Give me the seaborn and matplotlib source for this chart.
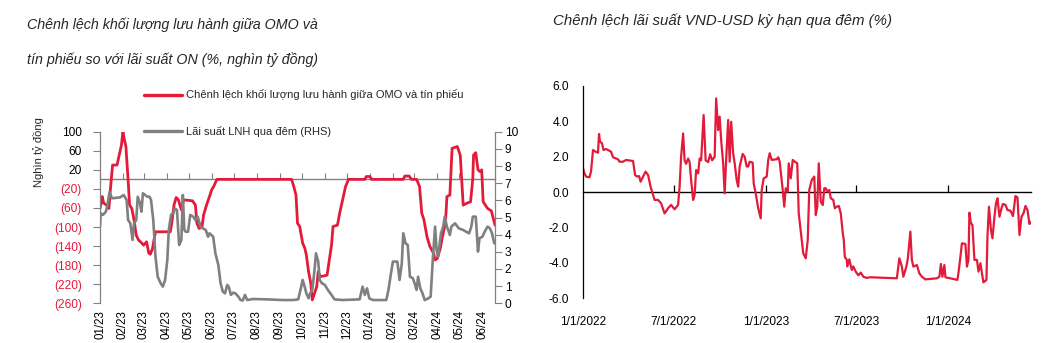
import matplotlib
matplotlib.use("Agg")
import matplotlib.pyplot as plt
import matplotlib.dates as mdates
from matplotlib import font_manager
import pandas as pd
import seaborn as sns

# ---- Left panel: OMO vs bills outstanding gap (LHS, bn VND) ----
omo_dates = [
    "2023-01-01", "2023-01-04", "2023-01-06", "2023-01-10", "2023-01-13", "2023-01-15",
    "2023-01-18", "2023-01-24", "2023-01-27", "2023-01-30", "2023-02-01", "2023-02-03",
    "2023-02-05", "2023-02-08", "2023-02-10", "2023-02-13", "2023-02-16", "2023-02-19",
    "2023-02-22", "2023-02-26", "2023-03-01", "2023-03-05", "2023-03-08", "2023-03-10",
    "2023-03-13", "2023-03-15", "2023-03-17", "2023-04-06", "2023-04-08", "2023-04-11",
    "2023-04-14", "2023-04-17", "2023-04-21", "2023-04-24", "2023-05-06", "2023-05-10",
    "2023-05-12", "2023-05-15", "2023-05-19", "2023-05-21", "2023-05-25", "2023-05-29",
    "2023-06-01", "2023-06-04", "2023-06-08", "2023-09-17", "2023-09-20", "2023-09-23",
    "2023-09-25", "2023-09-28", "2023-10-02", "2023-10-05", "2023-10-07", "2023-10-10",
    "2023-10-13", "2023-10-15", "2023-10-18", "2023-10-21", "2023-10-23", "2023-10-26",
    "2023-11-04", "2023-11-07", "2023-11-10", "2023-11-12", "2023-11-18", "2023-11-21",
    "2023-11-25", "2023-11-29", "2023-12-03", "2023-12-25", "2023-12-27", "2024-01-01",
    "2024-01-03", "2024-02-15", "2024-02-17", "2024-02-23", "2024-02-26", "2024-03-04",
    "2024-03-08", "2024-03-11", "2024-03-14", "2024-03-18", "2024-03-22", "2024-03-27",
    "2024-03-29", "2024-04-01", "2024-04-05", "2024-04-08", "2024-04-12", "2024-04-14",
    "2024-04-18", "2024-04-21", "2024-04-28", "2024-05-02", "2024-05-06", "2024-05-11",
    "2024-05-16", "2024-05-19", "2024-05-20", "2024-05-23", "2024-05-26", "2024-05-29",
    "2024-05-31", "2024-06-02", "2024-06-08", "2024-06-13", "2024-06-18",
]
omo_gap = [
    -61, -36, -50, -54, -61, -22,
    30, 30, 51, 72, 100, 83,
    69, -1, -54, -61, -85, -117,
    -127, -133, -138, -131, -155, -157,
    -145, -127, -110, -110, -92, -54,
    -38, -43, -64, -43, -45, -54,
    -92, -103, -99, -75, -54, -36,
    -22, -14, 0, 0, -15, -33,
    -92, -99, -134, -145, -159, -194,
    -218, -253, -239, -225, -194, -204,
    -201, -169, -138, -99, -96, -71,
    -43, -15, 0, 0, 6, 6,
    0, 0, 7, 7, 0, 0,
    -15, -71, -85, -120, -141, -155,
    -169, -166, -145, -120, -92, -36,
    -33, 65, 69, 51, -54, -50,
    -47, 2, 51, 56, 20, 16,
    20, -47, -61, -66, -96,
]

# ---- Left panel: interbank overnight rate (RHS, %) ----
lnh_dates = [
    "2023-01-01", "2023-01-02", "2023-01-05", "2023-01-09", "2023-01-11", "2023-01-14",
    "2023-01-17", "2023-01-28", "2023-02-02", "2023-02-06", "2023-02-08", "2023-02-11",
    "2023-02-14", "2023-02-16", "2023-02-19", "2023-02-21", "2023-02-24", "2023-02-26",
    "2023-02-28", "2023-03-03", "2023-03-06", "2023-03-09", "2023-03-11", "2023-03-14",
    "2023-03-17", "2023-03-20", "2023-03-24", "2023-03-27", "2023-03-30", "2023-04-02",
    "2023-04-04", "2023-04-07", "2023-04-10", "2023-04-12", "2023-04-15", "2023-04-18",
    "2023-04-21", "2023-04-23", "2023-04-25", "2023-04-27", "2023-04-30", "2023-05-03",
    "2023-05-07", "2023-05-10", "2023-05-13", "2023-05-17", "2023-05-20", "2023-05-24",
    "2023-05-27", "2023-05-29", "2023-06-03", "2023-06-06", "2023-06-10", "2023-06-13",
    "2023-06-16", "2023-06-19", "2023-06-22", "2023-06-24", "2023-06-27", "2023-06-30",
    "2023-07-03", "2023-07-07", "2023-07-10", "2023-07-13", "2023-07-16", "2023-07-19",
    "2023-07-27", "2023-08-14", "2023-09-05", "2023-09-19", "2023-09-26", "2023-09-29",
    "2023-10-02", "2023-10-04", "2023-10-07", "2023-10-10", "2023-10-12", "2023-10-15",
    "2023-10-18", "2023-10-20", "2023-10-23", "2023-10-25", "2023-10-28", "2023-11-01",
    "2023-11-05", "2023-11-10", "2023-11-14", "2023-11-25", "2023-12-18", "2023-12-22",
    "2023-12-25", "2023-12-28", "2023-12-31", "2024-01-05", "2024-01-23", "2024-01-26",
    "2024-01-29", "2024-02-01", "2024-02-07", "2024-02-10", "2024-02-13", "2024-02-15",
    "2024-02-18", "2024-02-21", "2024-02-24", "2024-02-28", "2024-03-02", "2024-03-04",
    "2024-03-06", "2024-03-09", "2024-03-12", "2024-03-15", "2024-03-20", "2024-03-23",
    "2024-03-26", "2024-03-29", "2024-03-31", "2024-04-02", "2024-04-06", "2024-04-09",
    "2024-04-11", "2024-04-14", "2024-04-18", "2024-04-20", "2024-04-25", "2024-04-30",
    "2024-05-06", "2024-05-10", "2024-05-14", "2024-05-17", "2024-05-19", "2024-05-23",
    "2024-05-26", "2024-05-28", "2024-06-01", "2024-06-04", "2024-06-08", "2024-06-11",
    "2024-06-14", "2024-06-17",
]
lnh_rate = [
    4.47, 5.24, 5.15, 5.34, 5.73, 6.50,
    6.12, 6.17, 6.31, 6.02, 4.85, 4.66,
    3.69, 4.66, 4.85, 6.21, 5.83, 5.34,
    6.41, 6.31, 6.21, 6.21, 6.02, 4.85,
    2.72, 1.55, 1.17, 0.97, 1.36, 2.52,
    4.27, 5.15, 5.24, 5.53, 5.44, 3.40,
    3.69, 6.31, 4.27, 4.17, 4.17, 5.15,
    5.05, 4.85, 5.05, 4.47, 4.37, 4.27,
    3.88, 4.08, 3.88, 2.91, 2.23, 1.17,
    0.68, 0.58, 1.07, 0.97, 0.49, 0.62,
    0.58, 0.39, 0.19, 0.16, 0.49, 0.19,
    0.25, 0.23, 0.19, 0.19, 0.23, 0.78,
    1.36, 1.07, 0.58, 0.29, 0.58, 0.78,
    1.94, 2.91, 2.43, 1.36, 1.17, 1.07,
    0.78, 0.49, 0.23, 0.19, 0.23, 0.97,
    0.49, 0.87, 0.29, 0.19, 0.19, 0.78,
    1.65, 2.43, 2.43, 1.36, 2.33, 4.08,
    3.50, 3.40, 1.55, 1.46, 1.07, 0.78,
    1.55, 0.87, 0.58, 0.19, 0.29, 0.39,
    2.62, 4.47, 3.11, 2.72, 4.08, 4.47,
    5.05, 4.47, 3.98, 4.47, 4.66, 4.37,
    4.27, 4.17, 4.08, 4.47, 5.05, 5.05,
    3.01, 3.79, 3.88, 4.17, 4.47, 4.37,
    4.08, 3.50,
]

# ---- Right panel: VND-USD overnight rate spread (%) ----
usd_dates = [
    "2022-01-01", "2022-01-04", "2022-01-07", "2022-01-14", "2022-01-17", "2022-01-21",
    "2022-01-26", "2022-01-31", "2022-02-02", "2022-02-04", "2022-02-08", "2022-02-11",
    "2022-02-16", "2022-02-26", "2022-03-02", "2022-03-12", "2022-03-15", "2022-03-22",
    "2022-03-28", "2022-04-11", "2022-04-15", "2022-04-19", "2022-04-23", "2022-04-26",
    "2022-05-01", "2022-05-06", "2022-05-11", "2022-05-16", "2022-05-20", "2022-05-24",
    "2022-05-31", "2022-06-06", "2022-06-13", "2022-06-20", "2022-06-26", "2022-07-03",
    "2022-07-10", "2022-07-13", "2022-07-16", "2022-07-20", "2022-07-23", "2022-07-26",
    "2022-07-30", "2022-08-02", "2022-08-05", "2022-08-09", "2022-08-12", "2022-08-15",
    "2022-08-19", "2022-08-22", "2022-08-25", "2022-08-30", "2022-09-03", "2022-09-08",
    "2022-09-12", "2022-09-16", "2022-09-21", "2022-09-24", "2022-09-28", "2022-10-01",
    "2022-10-04", "2022-10-08", "2022-10-11", "2022-10-14", "2022-10-18", "2022-10-21",
    "2022-10-24", "2022-10-28", "2022-10-31", "2022-11-04", "2022-11-07", "2022-11-10",
    "2022-11-16", "2022-11-20", "2022-11-24", "2022-11-27", "2022-11-30", "2022-12-06",
    "2022-12-08", "2022-12-12", "2022-12-17", "2022-12-22", "2022-12-24", "2022-12-28",
    "2023-01-03", "2023-01-06", "2023-01-09", "2023-01-13", "2023-01-23", "2023-01-26",
    "2023-01-29", "2023-02-04", "2023-02-07", "2023-02-10", "2023-02-14", "2023-02-16",
    "2023-02-20", "2023-02-24", "2023-02-28", "2023-03-05", "2023-03-08", "2023-03-14",
    "2023-03-17", "2023-03-22", "2023-03-26", "2023-03-29", "2023-04-03", "2023-04-08",
    "2023-04-11", "2023-04-14", "2023-04-17", "2023-04-21", "2023-04-25", "2023-04-28",
    "2023-05-01", "2023-05-04", "2023-05-08", "2023-05-11", "2023-05-16", "2023-05-19",
    "2023-05-23", "2023-05-27", "2023-05-31", "2023-06-04", "2023-06-06", "2023-06-08",
    "2023-06-12", "2023-06-13", "2023-06-17", "2023-06-22", "2023-06-25", "2023-06-30",
    "2023-07-05", "2023-07-10", "2023-07-15", "2023-07-22", "2023-07-28", "2023-09-20",
    "2023-09-25", "2023-09-30", "2023-10-03", "2023-10-09", "2023-10-12", "2023-10-17",
    "2023-10-20", "2023-10-23", "2023-10-30", "2023-11-04", "2023-11-09", "2023-11-16",
    "2023-12-09", "2023-12-14", "2023-12-17", "2023-12-20", "2023-12-24", "2023-12-26",
    "2024-01-05", "2024-01-19", "2024-01-21", "2024-01-25", "2024-01-28", "2024-02-04",
    "2024-02-07", "2024-02-10", "2024-02-12", "2024-02-15", "2024-02-18", "2024-02-22",
    "2024-02-27", "2024-03-01", "2024-03-05", "2024-03-08", "2024-03-11", "2024-03-17",
    "2024-03-19", "2024-03-22", "2024-03-26", "2024-03-29", "2024-04-02", "2024-04-05",
    "2024-04-08", "2024-04-12", "2024-04-16", "2024-04-19", "2024-04-24", "2024-04-28",
    "2024-05-04", "2024-05-09", "2024-05-14", "2024-05-18", "2024-05-22", "2024-05-26",
    "2024-05-30", "2024-06-03", "2024-06-07", "2024-06-11", "2024-06-13",
]
usd_spread = [
    1.35, 1.06, 0.88, 0.84, 1.16, 2.38,
    2.29, 2.23, 3.29, 2.85, 2.76, 2.38,
    2.44, 2.29, 1.97, 1.86, 1.72, 1.72,
    1.82, 1.76, 0.97, 0.88, 0.91, 0.59,
    0.88, 1.16, 0.97, 0.31, -0.07, -0.44,
    -0.44, -0.63, -1.20, -0.91, -0.72, -0.97,
    -0.72, 0.31, 2.00, 3.32, 1.80, 1.60,
    1.90, 1.70, 0.69, -0.44, -0.16, 1.25,
    1.06, 1.90, 1.80, 4.36, 1.80, 1.70,
    2.14, 1.80, 2.00, 5.30, 3.51, 4.27,
    2.94, 1.63, -0.07, 1.82, 4.08, 1.72,
    3.98, 2.19, 1.63, 0.69, 0.31, 1.45,
    2.16, 2.00, 1.45, 1.45, 1.72, 1.67,
    0.50, -0.07, -0.91, -1.48, 0.12, 0.78,
    0.88, 1.82, 2.20, 1.82, 1.86, 1.97,
    1.72, 0.12, -0.82, 0.22, 0.03, 1.63,
    0.78, 1.82, 1.72, 1.63, -1.20, -2.70,
    -3.46, -3.74, -2.70, 0.12, 0.69, 0.88,
    -1.29, -0.82, 1.63, -0.54, -0.73, 0.22,
    0.22, 0.03, 0.12, -0.35, -0.44, -0.91,
    -0.82, -0.78, -1.20, -2.33, -2.70, -3.65,
    -3.83, -4.20, -3.80, -4.40, -4.20, -4.50,
    -4.70, -4.55, -4.78, -4.85, -4.81, -4.87,
    -3.74, -4.21, -4.78, -4.21, -3.74, -2.23,
    -3.83, -4.21, -4.12, -4.59, -4.78, -4.93,
    -4.87, -4.78, -4.06, -4.78, -4.12, -4.81,
    -4.87, -4.96, -4.59, -3.65, -2.89, -2.93,
    -4.21, -3.83, -1.16, -1.76, -1.85, -3.83,
    -3.83, -4.49, -4.02, -4.59, -5.10, -4.96,
    -2.51, -0.82, -2.14, -2.61, -1.39, -0.63,
    -0.35, -1.39, -0.91, -0.67, -0.72, -1.01,
    -1.05, -1.35, -0.22, -0.30, -2.42, -1.39,
    -1.20, -0.78, -1.01, -1.80, -1.70,
]

left_yticks = [-260, -220, -180, -140, -100, -60, -20, 20, 60, 100]
right_yticks = [0, 1, 2, 3, 4, 5, 6, 7, 8, 9, 10]
spread_yticks = [-6, -4, -2, 0, 2, 4, 6]
spread_xticks = ["2022-01-01", "2022-07-01", "2023-01-01", "2023-07-01", "2024-01-01"]

left_title = ["Chênh lệch khối lượng lưu hành giữa OMO và",
              "tín phiếu so với lãi suất ON (%, nghìn tỷ đồng)"]
right_title = "Chênh lệch lãi suất VND-USD kỳ hạn qua đêm (%)"
omo_label = "Chênh lệch khối lượng lưu hành giữa OMO và tín phiếu"
lnh_label = "Lãi suất LNH qua đêm (RHS)"
left_ylabel = "Nghìn tỷ đồng"

RED = "#E31B3B"
GREY = "#808080"

sns.set_theme(style="white")
names = {f.name for f in font_manager.fontManager.ttflist}
NARROW = "Liberation Sans Narrow" if "Liberation Sans Narrow" in names else "Liberation Sans"
plt.rcParams["font.family"] = ["Liberation Sans", "DejaVu Sans"]
plt.rcParams["axes.unicode_minus"] = False

W, H = 1057, 343
fig = plt.figure(figsize=(W / 100, H / 100), dpi=100)

omo = pd.DataFrame({"date": pd.to_datetime(omo_dates), "gap": omo_gap})
lnh = pd.DataFrame({"date": pd.to_datetime(lnh_dates), "rate": lnh_rate})
usd = pd.DataFrame({"date": pd.to_datetime(usd_dates), "spread": usd_spread})

# ================= left panel =================
ax = fig.add_axes([100 / W, 1 - 303.3 / H, 395 / W, 171.6 / H])
ax2 = ax.twinx()
sns.lineplot(data=omo, x="date", y="gap", ax=ax, color=RED, lw=2.0, estimator=None)
sns.lineplot(data=lnh, x="date", y="rate", ax=ax2, color=GREY, lw=1.9, estimator=None)

ax.set_xlim(pd.Timestamp("2023-01-01"), pd.Timestamp("2024-06-18"))
ax.set_ylim(-260, 100)
ax2.set_ylim(0, 10)
ax.set_xlabel("")
ax.set_ylabel("")
ax2.set_ylabel("")

ax.set_yticks(left_yticks,
              labels=[f"({abs(v)})" if v < 0 else f"{v}" for v in left_yticks])
for lab, v in zip(ax.get_yticklabels(), left_yticks):
    lab.set_color(RED if v < 0 else "black")
ax2.set_yticks(right_yticks, labels=[str(v) for v in right_yticks])

ax.xaxis.set_major_locator(mdates.MonthLocator())
ax.xaxis.set_major_formatter(mdates.DateFormatter("%m/%y"))
ax.tick_params(axis="x", length=0, pad=5, labelsize=8.3, rotation=90, colors="black")
ax.tick_params(axis="y", direction="out", length=5, width=0.8, color=GREY,
               labelsize=8.6, pad=8)
ax2.tick_params(axis="y", direction="out", length=5, width=0.8, color=GREY,
                labelsize=8.6, pad=2, labelcolor="black")
for a in (ax, ax2):
    for side in ("top", "bottom"):
        a.spines[side].set_visible(False)
    for side in ("left", "right"):
        a.spines[side].set_color(GREY)
        a.spines[side].set_linewidth(0.9)
ax.spines["right"].set_visible(False)
ax2.spines["left"].set_visible(False)
ax.grid(False)
ax2.grid(False)

# zero line with monthly tick marks
zl = ax.secondary_xaxis(0, transform=ax.transData)
zl.xaxis.set_major_locator(mdates.MonthLocator())
zl.tick_params(axis="x", direction="in", length=4, width=0.8, color=GREY,
               labelbottom=False)
zl.spines["bottom"].set_color(GREY)
zl.spines["bottom"].set_linewidth(1.0)

title_font = [NARROW, "DejaVu Sans"]
fig.text(27 / W, 1 - 25 / H, left_title[0], family=title_font,
         style="italic", fontsize=10.3, va="center", ha="left")
fig.text(27 / W, 1 - 60 / H, left_title[1], family=title_font,
         style="italic", fontsize=10.3, va="center", ha="left")
fig.text(38 / W, 1 - 152 / H, left_ylabel, family=title_font,
         fontsize=8.0, rotation=90, va="center", ha="center")

handles = [ax.get_lines()[0], ax2.get_lines()[0]]
leg = fig.legend(handles, [omo_label, lnh_label], loc="upper left",
                 bbox_to_anchor=(144 / W, 1 - 89.5 / H), frameon=False,
                 borderpad=0, borderaxespad=0, handlelength=3.4,
                 handletextpad=0.35, labelspacing=2.3,
                 prop={"family": title_font, "size": 8.0})
for line in leg.get_lines():
    line.set_linewidth(2.4)

# ================= right panel =================
bx = fig.add_axes([583 / W, 1 - 298.3 / H, 448 / W, 212.3 / H])
sns.lineplot(data=usd, x="date", y="spread", ax=bx, color=RED, lw=1.6, estimator=None)
bx.set_xlim(pd.Timestamp("2022-01-01"), pd.Timestamp("2024-06-14"))
bx.set_ylim(-6, 6)
bx.set_xlabel("")
bx.set_ylabel("")
bx.set_yticks(spread_yticks, labels=[f"{v:.1f}" for v in spread_yticks])
xt = pd.to_datetime(spread_xticks)
bx.set_xticks(xt, labels=[f"{d.month}/{d.day}/{d.year}" for d in xt])
bx.tick_params(axis="x", length=0, pad=13, labelsize=8.6, colors="black")
bx.tick_params(axis="y", direction="out", length=5, width=0.9, color="black",
               labelsize=8.6, pad=5, labelcolor="black")
for side in ("top", "right", "bottom"):
    bx.spines[side].set_visible(False)
bx.spines["left"].set_color("black")
bx.spines["left"].set_linewidth(0.9)
bx.grid(False)

bz = bx.secondary_xaxis(0, transform=bx.transData)
bz.set_xticks(mdates.date2num(xt[1:]))
bz.tick_params(axis="x", direction="in", length=5, width=0.9, color="black",
               labelbottom=False)
bz.spines["bottom"].set_color("black")
bz.spines["bottom"].set_linewidth(1.0)

fig.text(553 / W, 1 - 21 / H, right_title, family=title_font,
         style="italic", fontsize=10.8, va="center", ha="left")

fig.savefig("out.png", dpi=100, facecolor="white")
